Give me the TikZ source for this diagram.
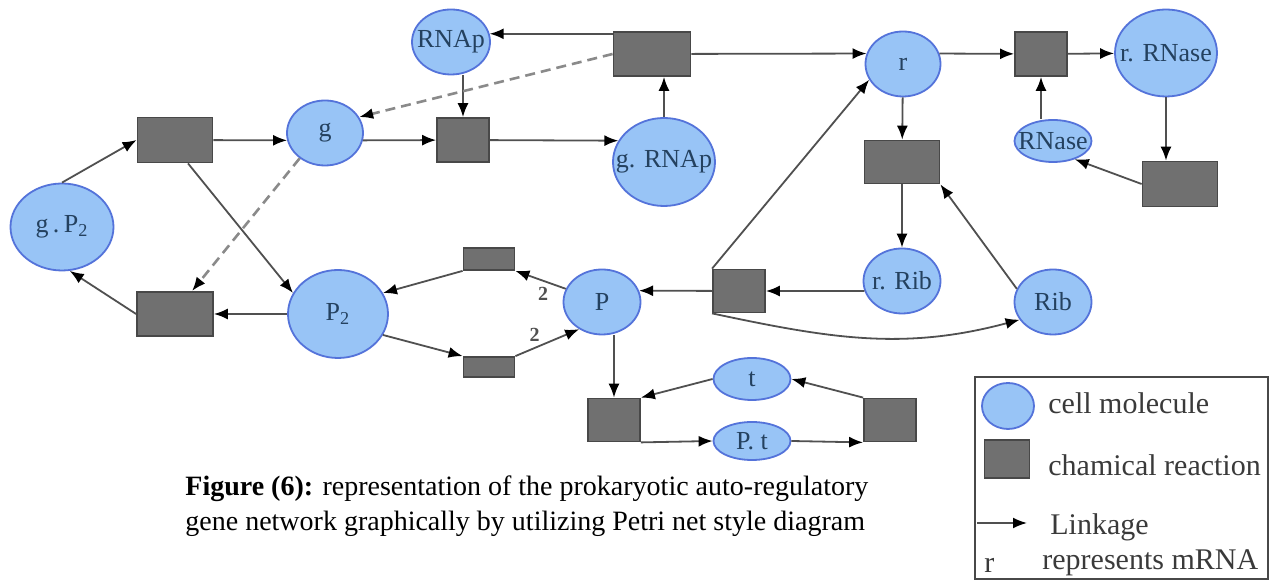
\documentclass[tikz,border=0pt]{standalone}
\usepackage{fontspec}
\setmainfont{Liberation Serif}
\usetikzlibrary{arrows.meta,shapes.geometric}
\definecolor{molfill}{HTML}{98C4F6}
\definecolor{molline}{HTML}{5473DA}
\definecolor{moltext}{HTML}{24415F}
\definecolor{rxfill}{HTML}{707070}
\definecolor{rxline}{HTML}{484848}
\definecolor{linkgrey}{HTML}{505050}
\definecolor{dashgrey}{HTML}{8A8A8A}
\definecolor{keytext}{HTML}{3A3A3A}
\tikzset{
  mol/.style={ellipse,draw=molline,line width=0.9pt,fill=molfill,inner sep=0pt,
              text=moltext,font=\fontsize{13}{14}\selectfont},
  rx/.style={rectangle,draw=rxline,line width=0.9pt,fill=rxfill,inner sep=0pt},
  sz/.style 2 args={minimum width=#1pt,minimum height=#2pt},
  link/.style={-{Latex[length=7pt,width=5.5pt,color=black]},line width=0.9pt,draw=linkgrey},
  inhib/.style={link,draw=dashgrey,line width=1.3pt,dash pattern=on 5pt off 3pt},
  wt/.style={font=\fontsize{10}{11}\selectfont\bfseries,text=linkgrey,inner sep=1pt},
  keytxt/.style={anchor=west,font=\fontsize{15}{16}\selectfont,text=keytext,inner sep=0pt},
  keyframe/.style={draw=rxline,line width=0.8pt},
}

\begin{document}
\begin{tikzpicture}[x=0.5pt,y=-0.5pt]
  \useasboundingbox[fill=white] (0,0) rectangle (1271,581);

  % places (cell molecules)
  \node[mol,sz={39}{32.5}] (RNAp) at (451,42) {\makebox[0pt]{RNAp}};
  \node[mol,sz={38}{32.5}] (g) at (325,133) {g};
  \node[mol,sz={51}{44}] (gRNAp) at (664,162) {\makebox[0pt]{g. RNAp}};
  \node[mol,sz={51.5}{43.5}] (gP2) at (62,227) {\makebox[0pt]{g\,.\,P\textsubscript{2}}};
  \node[mol,sz={50}{44}] (P2) at (338,314) {P\textsubscript{2}};
  \node[mol,sz={38.5}{32.5}] (P) at (602,302) {P};
  \node[mol,sz={37.5}{32.5}] (r) at (903,64) {r};
  \node[mol,sz={51}{43.5}] (rRNase) at (1166,53) {\makebox[0pt]{r. RNase}};
  \node[mol,sz={38.5}{21}] (RNase) at (1053,141) {\makebox[0pt]{RNase}};
  \node[mol,sz={38.5}{32.5}] (rRib) at (902,281) {\makebox[0pt]{r. Rib}};
  \node[mol,sz={38.5}{32.5}] (Rib) at (1053,302) {Rib};
  \node[mol,sz={38.5}{21}] (t) at (752,379) {t};
  \node[mol,sz={38.5}{19}] (Pt) at (752,441) {\makebox[0pt]{P. t}};

  % transitions (reactions)
  \node[rx,sz={38.5}{22}] (T1) at (652,54) {};
  \node[rx,sz={37.5}{22.5}] (Tlt) at (175,140) {};
  \node[rx,sz={26}{22}] (Tg) at (463,140) {};
  \node[rx,sz={38}{22}] (Tbl) at (175,314) {};
  \node[rx,sz={25.5}{11}] (Tsu) at (489,259) {};
  \node[rx,sz={25.5}{10}] (Tsd) at (489,367) {};
  \node[rx,sz={26}{21.5}] (Tmid) at (739,291) {};
  \node[rx,sz={37.5}{21.5}] (Tur) at (902,162) {};
  \node[rx,sz={26}{22}] (Tr) at (1041,54) {};
  \node[rx,sz={37.5}{22.5}] (Tbr) at (1180,184) {};
  \node[rx,sz={26}{21.5}] (Tpb) at (614,420) {};
  \node[rx,sz={26}{21.5}] (Tpr) at (890,420) {};

  % gene / polymerase part
  \draw[link] (T1.west |- RNAp.12) -- (RNAp.12);
  \draw[link] (T1) -- (r.164);
  \draw[link] (gRNAp) -- (gRNAp |- T1.south);
  \draw[link] (Tg |- RNAp.south) -- (Tg);
  \draw[link] (g.-11) -- (Tg);
  \draw[link] (Tg) -- (gRNAp.155);
  \draw[inhib] (T1.west) -- (g.25);
  \draw[inhib] (g.-135) -- ([xshift=8.5pt]Tbl.north);

  % repression loop
  \draw[link] (gP2.north) -- (Tlt.west);
  \draw[link] (Tlt) -- (g.191);
  \draw[link] ([xshift=6.5pt]Tlt.south) -- (P2.155);
  \draw[link] (P2) -- (Tbl);
  \draw[link] (Tbl.west) -- (gP2.-80);

  % dimerisation
  \draw[link] (P.160) -- node[wt,pos=.45,below=2pt] {2} (Tsu.south east);
  \draw[link] (Tsu.south west) -- (P2.25);
  \draw[link] (P2.-25) -- (Tsd.north west);
  \draw[link] (Tsd.north east) -- node[wt,pos=.3,above=2pt] {2} (P.-130);

  % translation
  \draw[link] (Tmid) -- (P.17);
  \draw[link] (rRib.195) -- (Tmid);
  \draw[link] (Tmid.north west) -- (r.-155);
  \draw[link] (Tmid.south west) to[out=-12,in=195] (Rib.-152);
  \draw[link] (r) -- (Tur);
  \draw[link] (Tur) -- (rRib);
  \draw[link] (Rib.160) -- (Tur.south east);

  % mRNA decay
  \draw[link] (r.16) -- (Tr);
  \draw[link] (Tr) -- (rRNase);
  \draw[link] (RNase.north -| Tr) -- (Tr);
  \draw[link] (rRNase) -- (rRNase |- Tbr.north);
  \draw[link] (Tbr.west) -- (RNase.-40);

  % protein degradation
  \draw[link] (P.south -| Tpb) -- (Tpb);
  \draw[link] (t.west) -- (Tpb.north east);
  \draw[link] (Tpb.south east) -- (Pt.west);
  \draw[link] (Pt.east) -- (Tpr.south west);
  \draw[link] (Tpr.north west) -- (t.east);

  % caption
  \node[anchor=west,align=left,inner sep=0pt,font=\fontsize{14}{17.5}\selectfont] (caption) at (185,506)
    {\textbf{Figure (6):} representation of the prokaryotic auto-regulatory\\
     gene network graphically by utilizing Petri net style diagram};

  % key
  \draw[keyframe] (975,377) rectangle (1268,579);
  \node[mol,sz={26}{23}] (keymol) at (1008,406) {};
  \node[keytxt] (keymoltxt) at (1048,403) {cell molecule};
  \node[rx,sz={22.5}{19}] (keyrx) at (1007,459) {};
  \node[keytxt] (keyrxtxt) at (1048,465) {chamical reaction};
  \coordinate (keya) at (977,523);
  \coordinate (keyb) at (1027,523);
  \draw[link] (keya) -- (keyb);
  \node[keytxt] (keylinktxt) at (1050,527) {Linkage};
  \node[keytxt] (keyr) at (984,565) {r};
  \node[keytxt] (keyrtxt) at (1042,563) {represents mRNA};
\end{tikzpicture}
\end{document}
